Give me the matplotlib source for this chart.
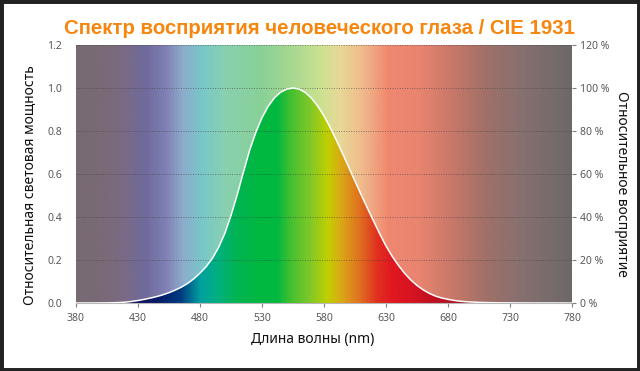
import numpy as np
import matplotlib
matplotlib.use('Agg')
import matplotlib.pyplot as plt
from matplotlib.colors import LinearSegmentedColormap
from matplotlib.patches import Rectangle, Polygon

plt.rcParams['font.family'] = ['Noto Sans', 'DejaVu Sans']

# CIE 1931 photopic luminosity function V(lambda)
wavelengths = list(range(380, 781, 5))
luminosity = [
    0.000039, 0.000064, 0.00012, 0.000217, 0.000396, 0.00064, 0.00121, 0.00218,
    0.004, 0.0073, 0.0116, 0.01684, 0.023, 0.0298, 0.038, 0.048, 0.06, 0.0739,
    0.09098, 0.1126, 0.13902, 0.1693, 0.20802, 0.2586, 0.323, 0.4073, 0.503,
    0.6082, 0.71, 0.7932, 0.862, 0.91485, 0.954, 0.9803, 0.99495, 1.0, 0.995,
    0.9786, 0.952, 0.9154, 0.87, 0.8163, 0.757, 0.6949, 0.631, 0.5668, 0.503,
    0.4412, 0.381, 0.321, 0.265, 0.217, 0.175, 0.1382, 0.107, 0.0816, 0.061,
    0.04458, 0.032, 0.0232, 0.017, 0.01192, 0.00821, 0.005723, 0.004102,
    0.002929, 0.002091, 0.001484, 0.001047, 0.00074, 0.00052, 0.000361,
    0.000249, 0.000172, 0.00012, 0.0000848, 0.00006, 0.0000424, 0.00003,
    0.0000212, 0.000015,
]

# washed-out background spectrum
bg_stops_nm = [380, 405, 420, 436, 453, 466, 482, 500, 528, 555, 578, 593,
               610, 632, 657, 684, 711, 738, 780]
bg_colors = ['#776a72', '#7a6a78', '#7a6a88', '#6e6a9c', '#8282b6', '#8caccc',
             '#78c8c8', '#88d0b0', '#88d098', '#a8d890', '#cce290', '#e8d898',
             '#f0bc8c', '#f08870', '#e88470', '#c87868', '#a07068', '#887070',
             '#6e6868']

# saturated spectrum under the curve
fg_stops_nm = [380, 430, 445, 464, 480, 494, 510, 530, 542, 554, 569, 583,
               595, 609, 623, 635, 650, 667, 700, 780]
fg_colors = ['#1a1050', '#10145a', '#061a66', '#003a80', '#00a0a0', '#00b080',
             '#00b450', '#00b840', '#00b840', '#48c030', '#80c828', '#c0d000',
             '#dca418', '#e07020', '#e03020', '#e01820', '#d81420', '#c01020',
             '#a01828', '#901828']

x_ticks = [380, 430, 480, 530, 580, 630, 680, 730, 780]
y_ticks_left = [0.0, 0.2, 0.4, 0.6, 0.8, 1.0, 1.2]
y_ticks_right = [0, 20, 40, 60, 80, 100, 120]

title = 'Спектр восприятия человеческого глаза / CIE 1931'
xlabel = 'Длина волны (nm)'
ylabel_left = 'Относительная световая мощность'
ylabel_right = 'Относительное восприятие'


def make_cmap(stops, colors):
    pos = [(s - 380) / 400 for s in stops]
    return LinearSegmentedColormap.from_list('c', list(zip(pos, colors)), N=512)


fig = plt.figure(figsize=(6.4, 3.71), dpi=100)
ax = fig.add_axes([76 / 640, 68 / 371, 496 / 640, 258 / 371])

grad = np.linspace(0, 1, 800).reshape(1, -1)
ax.imshow(grad, cmap=make_cmap(bg_stops_nm, bg_colors), aspect='auto',
          extent=[380, 780, 0, 1.2], interpolation='bilinear', zorder=0)
fg = ax.imshow(grad, cmap=make_cmap(fg_stops_nm, fg_colors), aspect='auto',
               extent=[380, 780, 0, 1.2], interpolation='bilinear', zorder=1)
verts = list(zip(wavelengths, luminosity)) + [(780, 0), (380, 0)]
clip = Polygon(verts, closed=True, facecolor='none', edgecolor='none',
               transform=ax.transData)
ax.add_patch(clip)
fg.set_clip_path(clip)

ax.plot(wavelengths, luminosity, color='white', lw=1.1, zorder=4)

ax.set_xlim(380, 780)
ax.set_ylim(0, 1.2)
ax.set_xticks(x_ticks)
ax.set_xticklabels([str(v) for v in x_ticks])
ax.set_yticks(y_ticks_left)
ax.set_yticklabels([f'{v:.1f}' for v in y_ticks_left])
ax.set_axisbelow(False)
ax.grid(axis='y', color='#3a3a3a', ls=(0, (1, 1.5)), lw=0.7, alpha=0.55)
ax.grid(axis='x', visible=False)
for s in ['top', 'left', 'right']:
    ax.spines[s].set_visible(False)
ax.spines['bottom'].set_color('#b8b8b8')
ax.spines['bottom'].set_zorder(5)
ax.tick_params(axis='x', direction='out', length=3, color='#808080',
               labelcolor='#595959', labelsize=7.5, pad=4)
ax.tick_params(axis='y', length=0, pad=10, labelcolor='#595959', labelsize=7.5)

ax2 = ax.twinx()
ax2.set_ylim(0, 120)
ax2.set_yticks(y_ticks_right)
ax2.set_yticklabels([f'{v} %' for v in y_ticks_right])
for s in ax2.spines.values():
    s.set_visible(False)
ax2.tick_params(axis='y', direction='out', length=3, color='#808080',
                labelcolor='#595959', labelsize=7.5, pad=3)

fig.text(0.5, 1 - 29 / 371, title, ha='center', va='center', color='#f7860f',
         fontsize=14.7, fontweight='bold',
         family=['Liberation Sans', 'DejaVu Sans'])
fig.text(30 / 640, 1 - 185 / 371, ylabel_left, rotation=90, ha='center',
         va='center', fontsize=10, color='#111111')
fig.text(621 / 640, 1 - 184 / 371, ylabel_right, rotation=270, ha='center',
         va='center', fontsize=10, color='#111111')
fig.text(313 / 640, 1 - 339 / 371, xlabel, ha='center', va='center',
         fontsize=10, color='#111111')

fig.add_artist(Rectangle((0, 0), 1, 1, transform=fig.transFigure, fill=False,
                         edgecolor='#222222', lw=5, clip_on=False))

fig.savefig('out.png', dpi=100)
